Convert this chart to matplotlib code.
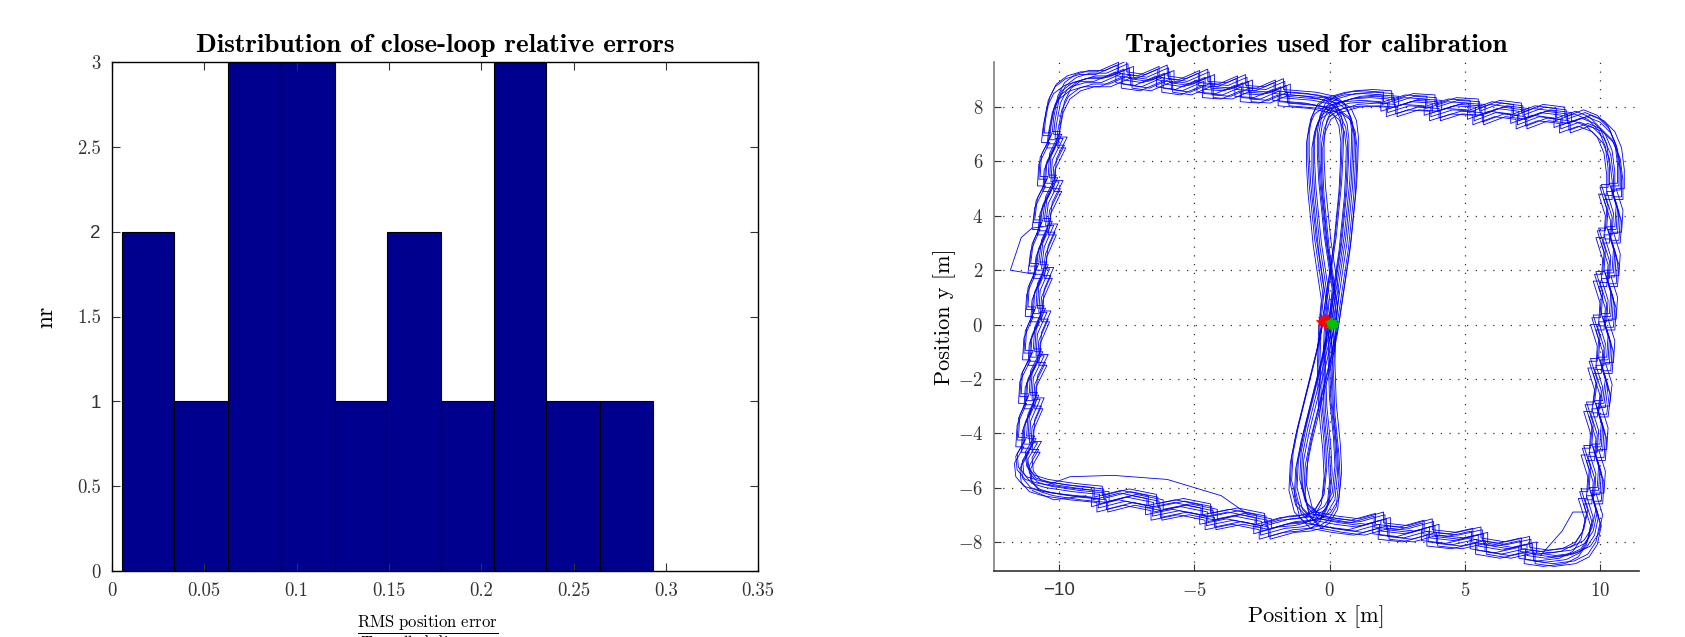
import matplotlib
matplotlib.use('Agg')
import matplotlib.pyplot as plt
import numpy as np

plt.rcParams['font.family'] = ['cmr10', 'DejaVu Serif']
plt.rcParams['mathtext.fontset'] = 'cm'
plt.rcParams['axes.unicode_minus'] = False

# histogram of close-loop relative errors
bin_edges = [0.0052, 0.0338, 0.0629, 0.0914, 0.1206, 0.149, 0.178, 0.2068, 0.2353, 0.2644, 0.293]
counts = [2, 1, 3, 3, 1, 2, 1, 3, 1, 1]
hist_xticks = [0, 0.05, 0.1, 0.15, 0.2, 0.25, 0.3, 0.35]
hist_xticklabels = ['0', '0.05', '0.1', '0.15', '0.2', '0.25', '0.3', '0.35']
hist_yticks = [0, 0.5, 1, 1.5, 2, 2.5, 3]
hist_yticklabels = ['0', '0.5', '1', '1.5', '2', '2.5', '3']

# base calibration trajectory (figure eight)
path_x = [0.0, 0.15, 0.3, 0.45, 0.55, 0.65, 0.7, 0.72, 0.65, 0.45, 0.1,
          -0.6, -1.2, -1.8, -1.8, -2.5, -3.2, -3.2, -3.9, -4.6, -4.6, -5.4, -6.1, -6.1, -6.9, -7.6, -7.6, -8.4, -9.0, -9.5, -9.9, -10.15,
          -10.3, -10.35, -10.05, -10.45, -10.5, -10.2, -10.6, -10.7, -10.4, -10.75, -10.85, -10.55, -10.9, -10.95, -10.65, -11.0, -11.05, -10.75,
          -11.15, -11.2, -10.9, -11.25, -11.3, -11.0, -11.35, -11.3, -11.0, -10.5,
          -9.5, -8.5, -8.5, -7.5, -6.5, -6.5, -5.5, -4.5, -4.5, -3.5, -2.5, -2.5, -1.6, -1.0, -0.6,
          -0.3, 0.0, 0.1, 0.05, -0.1, -0.15, -0.1, 0.0, -0.15, -0.3, -0.4, -0.5, -0.55, -0.55, -0.45, -0.25, 0.1,
          0.8, 1.5, 2.2, 2.2, 3.0, 3.8, 3.8, 4.6, 5.4, 5.4, 6.2, 7.0, 7.0, 7.8, 8.6, 8.6, 9.3, 9.8, 10.2, 10.45,
          10.55, 10.55, 10.25, 10.5, 10.45, 10.15, 10.4, 10.35, 10.05, 10.3, 10.25, 9.95, 10.2, 10.15, 9.85, 10.1, 10.0, 9.7,
          9.95, 9.9, 9.6, 9.85, 9.8, 9.5, 9.75, 9.6, 9.3, 8.8, 8.0,
          7.3, 7.3, 6.4, 5.5, 5.5, 4.6, 3.7, 3.7, 2.8, 1.9, 1.9, 1.0, 0.2, -0.6,
          -1.0, -1.2, -1.15, -0.95, -0.7, -0.45, -0.2, 0.0]
path_y = [0.0, 1.0, 2.0, 3.0, 4.0, 5.0, 6.0, 6.8, 7.4, 7.85, 8.1,
          8.25, 8.3, 8.35, 8.75, 8.45, 8.5, 8.9, 8.6, 8.65, 9.1, 8.75, 8.85, 9.25, 8.9, 9.0, 9.4, 9.05, 9.05, 8.9, 8.6, 8.1,
          7.3, 6.8, 6.8, 6.0, 5.2, 5.2, 4.4, 3.6, 3.6, 2.8, 2.0, 2.0, 1.2, 0.4, 0.4, -0.4, -1.2, -1.2,
          -2.0, -2.8, -2.8, -3.6, -4.4, -4.4, -5.0, -5.5, -5.85, -6.0,
          -6.15, -6.25, -6.6, -6.35, -6.55, -6.9, -6.7, -6.9, -7.25, -7.05, -7.25, -7.6, -7.35, -7.3, -7.2,
          -7.0, -6.5, -5.5, -4.5, -3.0, -1.5, 0.0, 1.0, 2.0, 3.0, 4.0, 5.0, 6.0, 6.8, 7.4, 7.85, 8.1,
          8.3, 8.35, 8.3, 7.95, 8.2, 8.15, 7.8, 8.05, 8.0, 7.65, 7.95, 7.85, 7.5, 7.8, 7.7, 7.35, 7.6, 7.4, 7.0, 6.4,
          5.6, 4.9, 4.9, 4.1, 3.3, 3.3, 2.5, 1.7, 1.7, 0.9, 0.1, 0.1, -0.7, -1.5, -1.5, -2.3, -3.1, -3.1,
          -3.9, -4.7, -4.7, -5.5, -6.3, -6.3, -7.1, -7.8, -8.25, -8.5, -8.6,
          -8.5, -8.1, -8.3, -8.15, -7.75, -7.95, -7.85, -7.45, -7.7, -7.6, -7.2, -7.45, -7.35, -7.2,
          -6.8, -6.0, -5.0, -4.0, -3.0, -2.0, -1.0, 0.0]

# spread of the individual runs around the base trajectory
run_dx = [0.0, 0.25, -0.2, 0.35, -0.3, 0.1, -0.1, 0.3, -0.25, 0.15, -0.05, 0.2]
run_dy = [0.0, -0.2, 0.25, 0.1, -0.1, 0.3, -0.3, -0.3, 0.15, 0.2, -0.15, 0.05]

# a few detours seen off the main band
detour_x = [[-10.6, -11.0, -11.4, -11.8, -10.9],
            [9.5, 9.0, 8.6, 7.8],
            [-10.4, -9.6, -8.0, -6.0, -4.0, -3.0],
            [-11.0, -10.2, -9.0]]
detour_y = [[3.6, 3.55, 3.2, 2.0, 1.85],
            [-6.9, -6.9, -7.6, -8.5],
            [-5.9, -5.6, -5.55, -5.7, -6.3, -7.0],
            [-6.1, -6.45, -6.3]]

# start / end markers
start_x = [-0.3, -0.15, -0.2, -0.05, -0.25, -0.1]
start_y = [0.1, 0.2, 0.05, 0.15, 0.22, 0.0]
end_x = [0.05, 0.12, 0.0, 0.18, 0.08]
end_y = [0.0, -0.05, 0.05, 0.02, 0.08]

fig = plt.figure(figsize=(16.85, 6.37), dpi=100)

# ---- left: histogram
ax1 = fig.add_axes([0.0665, 0.1036, 0.3834, 0.799])
ax1.bar(bin_edges[:-1], counts, width=np.diff(bin_edges), align='edge',
        color='#00008F', edgecolor='k', linewidth=0.8)
ax1.set_xlim(0, 0.35)
ax1.set_ylim(0, 3)
ax1.set_xticks(hist_xticks)
ax1.set_xticklabels(hist_xticklabels)
ax1.set_yticks(hist_yticks)
ax1.set_yticklabels(hist_yticklabels)
for lab in ax1.get_yticklabels():
    if lab.get_text() in ('1', '2'):
        lab.set_fontfamily('Liberation Sans')
ax1.tick_params(direction='in', top=True, right=True, length=6, labelsize=13.5, pad=8,
                colors='#333333')
for s in ax1.spines.values():
    s.set_linewidth(1.0)
ax1.set_title('Distribution of close-loop relative errors', fontfamily='cmb10',
              fontsize=19.5, pad=7)
ax1.set_ylabel('nr', fontsize=17, labelpad=14)
fig.text(0.2535, 0.008, r'$\dfrac{\mathrm{RMS\ position\ error}}{\mathrm{Travelled\ distance}}$',
         ha='center', va='center', fontsize=12)

# ---- right: trajectories
ax2 = fig.add_axes([0.590, 0.1036, 0.3828, 0.799])
px = np.array(path_x)
py = np.array(path_y)
for dx, dy in zip(run_dx, run_dy):
    ax2.plot(px + dx, py + dy, color='#0000FF', linewidth=0.6)
for xs, ys in zip(detour_x, detour_y):
    ax2.plot(xs, ys, color='#0000FF', linewidth=0.6)
ax2.plot(start_x, start_y, '*', color='red', markersize=8, markeredgewidth=0.5)
ax2.plot(end_x, end_y, '*', color='#00C000', markersize=7, markeredgewidth=0.5)
ax2.set_xlim(-12.4, 11.45)
ax2.set_ylim(-9.07, 9.66)
ax2.set_xticks([-10, -5, 0, 5, 10])
ax2.set_xticklabels(['\u221210', '$-5$', '$0$', '$5$', '$10$'])
ax2.get_xticklabels()[0].set_fontfamily('Liberation Sans')
ax2.set_yticks([-8, -6, -4, -2, 0, 2, 4, 6, 8])
ax2.set_yticklabels(['$%d$' % v for v in [-8, -6, -4, -2, 0, 2, 4, 6, 8]])
ax2.grid(True, color='#333333', linestyle=(0, (1, 6)), linewidth=0.9)
ax2.spines['top'].set_visible(False)
ax2.spines['right'].set_visible(False)
ax2.spines['left'].set_color('#808080')
ax2.spines['left'].set_linewidth(1.2)
ax2.spines['bottom'].set_color('#333333')
ax2.spines['bottom'].set_linewidth(1.2)
ax2.tick_params(direction='in', length=5, labelsize=13.5, pad=8, colors='#333333')
ax2.set_title('Trajectories used for calibration', fontfamily='cmb10', fontsize=19.5, pad=7)
ax2.set_xlabel('Position x [m]', fontsize=16, labelpad=4)
ax2.set_ylabel('Position y [m]', fontsize=16, labelpad=1)

fig.savefig('out.png', dpi=100)
